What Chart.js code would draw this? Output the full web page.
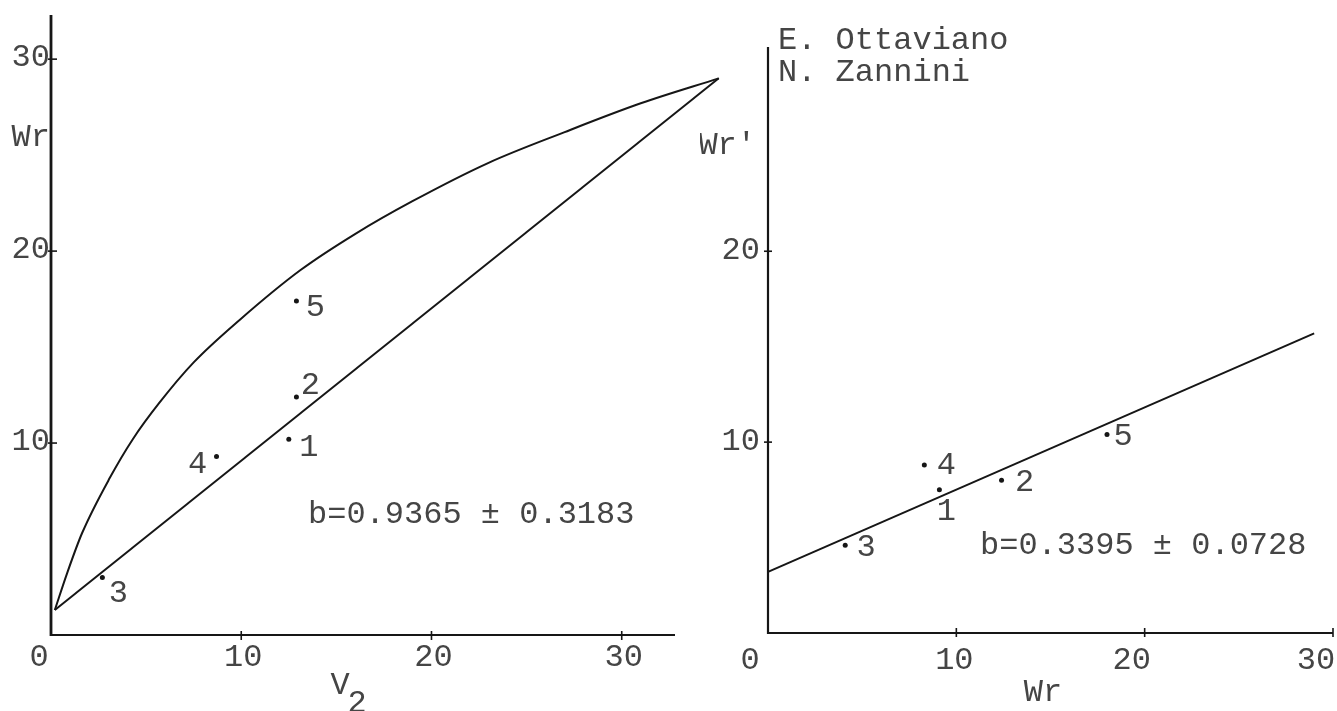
<!DOCTYPE html>
<html>
<head>
<meta charset="utf-8">
<script src="https://cdn.jsdelivr.net/npm/chart.js@4.4.1/dist/chart.umd.min.js"></script>
<style>
  html, body { margin: 0; padding: 0; background: #fff; width: 1337px; height: 711px; overflow: hidden; }
  canvas { position: absolute; top: 0; }
  #vrwr { left: 0; }
  #wrwr { left: 700px; }
</style>
</head>
<body>
<canvas id="vrwr" width="740" height="711"></canvas>
<canvas id="wrwr" width="637" height="711"></canvas>
<script>
// ---- Left graph: Wr on V2 (array numbers 1..5) ----
const arrayIds = ['1', '2', '3', '4', '5'];
const v2Values = [12.5, 12.9, 2.7, 8.7, 12.9];
const wrValues = [10.2, 12.4, 3.0, 9.3, 17.4];

// limiting parabola
const parabolaV2 = [0.2, 0.84, 1.63, 3.1, 4.3, 5.7, 7.5, 9.9, 13.1, 16, 19, 23, 27, 31, 35.1];
const parabolaWr = [1.3, 3.2, 5.3, 8.2, 10.2, 12.1, 14.2, 16.4, 19.0, 20.9, 22.6, 24.6, 26.2, 27.7, 29.0];

// regression line of Wr on V2
const regLineV2 = [0.2, 35.1];
const regLineWr = [1.3, 29.0];

const leftXTicks = [0, 10, 20, 30];
const leftYTicks = [10, 20, 30];
const leftSlopeText = 'b=0.9365 ± 0.3183';

// ---- Right graph: Wr' on Wr ----
const wrAxisValues = [9.1, 12.4, 4.1, 8.3, 18.0];
const wrPrimeValues = [7.5, 8.0, 4.6, 8.8, 10.4];
const regLineWrX = [0, 29.0];
const regLineWrPrime = [3.2, 15.7];

const rightXTicks = [0, 10, 20, 30];
const rightYTicks = [10, 20];
const rightSlopeText = 'b=0.3395 ± 0.0728';
const authors = ['E. Ottaviano', 'N. Zannini'];

// ---- styling ----
const INK = '#161616';
const TYPE = '#454545';
const FONT = '32px "Liberation Mono", "DejaVu Sans Mono", monospace';

// label placement next to each dot (pixel offsets of the label centre)
const leftLabelOffsets = [[20, 6], [14, -13], [16, 14], [-19, 6], [19, 4]];
const rightLabelOffsets = [[7, 20], [23, 0], [21, 0], [22, -2], [16, 0]];
const rightXLabelShift = [-18, -2, -13, -17];

const pts = (xs, ys) => xs.map((x, i) => ({ x, y: ys[i] }));

function typeText(ctx, str, x, cy, align) {
  // cy = vertical centre of digits / capitals
  ctx.save();
  ctx.font = FONT;
  ctx.fillStyle = TYPE;
  ctx.textAlign = align || 'center';
  ctx.textBaseline = 'alphabetic';
  ctx.fillText(str, x, cy + 10.5);
  ctx.restore();
}

function line(ctx, x1, y1, x2, y2, w) {
  ctx.save();
  ctx.strokeStyle = INK;
  ctx.lineWidth = w;
  ctx.lineCap = 'butt';
  ctx.beginPath();
  ctx.moveTo(x1, y1);
  ctx.lineTo(x2, y2);
  ctx.stroke();
  ctx.restore();
}

const leftDecor = {
  id: 'leftDecor',
  afterDraw(chart) {
    const { ctx } = chart;
    const xs = chart.scales.x, ys = chart.scales.y;
    const x0 = xs.getPixelForValue(0), y0 = ys.getPixelForValue(0);
    // axes
    line(ctx, x0, ys.top, x0, y0 + 1, 2.8);
    line(ctx, x0, y0, xs.right, y0, 2);
    leftXTicks.forEach(v => {
      const px = xs.getPixelForValue(v);
      if (v > 0) line(ctx, px, y0 - 4, px, y0 + 5, 1.6);
      typeText(ctx, String(v), v === 0 ? px - 12 : px + 2, y0 + 20);
    });
    leftYTicks.forEach(v => {
      const py = ys.getPixelForValue(v);
      line(ctx, x0 - 3, py, x0 + 6, py, 1.6);
      typeText(ctx, String(v), x0 - 1, py - 4, 'right');
    });
    // axis titles
    typeText(ctx, 'Wr', x0 - 1, ys.top + 120, 'right');
    typeText(ctx, 'V', 340, y0 + 48);
    typeText(ctx, '2', 357, y0 + 66);
    // dot labels
    const meta = chart.getDatasetMeta(2);
    meta.data.forEach((el, i) => {
      const [dx, dy] = leftLabelOffsets[i];
      typeText(ctx, arrayIds[i], el.x + dx, el.y + dy);
    });
    // slope
    typeText(ctx, leftSlopeText, 308, 512, 'left');
  }
};

const rightDecor = {
  id: 'rightDecor',
  afterDraw(chart) {
    const { ctx } = chart;
    const xs = chart.scales.x, ys = chart.scales.y;
    const x0 = xs.getPixelForValue(0), y0 = ys.getPixelForValue(0);
    line(ctx, x0, ys.top, x0, y0 + 1, 2.2);
    line(ctx, x0, y0, xs.right, y0, 2);
    rightXTicks.forEach((v, i) => {
      const px = xs.getPixelForValue(v);
      if (v > 0) line(ctx, px, y0 - 5, px, y0 + 4, 1.6);
      typeText(ctx, String(v), px + rightXLabelShift[i], y0 + 25);
    });
    rightYTicks.forEach(v => {
      const py = ys.getPixelForValue(v);
      line(ctx, x0 - 4, py, x0 + 4, py, 1.6);
      typeText(ctx, String(v), x0 - 8, py - 3, 'right');
    });
    typeText(ctx, "Wr'", x0 - 12, ys.top + 96, 'right');
    typeText(ctx, 'Wr', 1043 - 700, y0 + 57);
    const meta = chart.getDatasetMeta(1);
    meta.data.forEach((el, i) => {
      const [dx, dy] = rightLabelOffsets[i];
      typeText(ctx, arrayIds[i], el.x + dx, el.y + dy);
    });
    typeText(ctx, rightSlopeText, 980 - 700, 543, 'left');
    authors.forEach((name, i) => typeText(ctx, name, 778 - 700, 38 + i * 32, 'left'));
  }
};

const baseOptions = (pad, xMax, yMax) => ({
  responsive: false,
  animation: false,
  events: [],
  layout: { padding: pad },
  plugins: { legend: { display: false }, tooltip: { enabled: false } },
  scales: {
    x: { type: 'linear', display: false, min: 0, max: xMax },
    y: { type: 'linear', display: false, min: 0, max: yMax }
  }
});

const lineStyle = { showLine: true, pointRadius: 0, borderColor: INK, borderWidth: 2, fill: false, clip: false };
const dotStyle = { showLine: false, pointRadius: 2.5, pointBackgroundColor: INK, pointBorderWidth: 0, borderColor: INK };

new Chart(document.getElementById('vrwr'), {
  type: 'line',
  data: {
    datasets: [
      Object.assign({ data: pts(parabolaV2, parabolaWr), cubicInterpolationMode: 'monotone' }, lineStyle),
      Object.assign({ data: pts(regLineV2, regLineWr) }, lineStyle),
      Object.assign({ data: pts(v2Values, wrValues) }, dotStyle)
    ]
  },
  options: baseOptions({ left: 51, top: 15, right: 65, bottom: 76 }, 32.8, 32.3),
  plugins: [leftDecor]
});

new Chart(document.getElementById('wrwr'), {
  type: 'line',
  data: {
    datasets: [
      Object.assign({ data: pts(regLineWrX, regLineWrPrime) }, lineStyle),
      Object.assign({ data: pts(wrAxisValues, wrPrimeValues) }, dotStyle)
    ]
  },
  options: baseOptions({ left: 68, top: 47, right: 2, bottom: 78 }, 30.0, 30.7),
  plugins: [rightDecor]
});
</script>
</body>
</html>
